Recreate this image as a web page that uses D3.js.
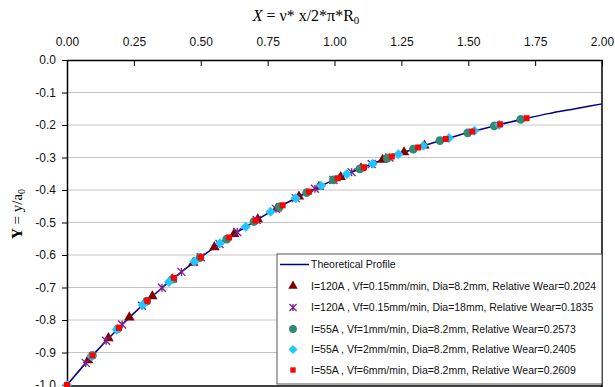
<!DOCTYPE html>
<html>
<head>
<meta charset="utf-8">
<script src="https://cdn.jsdelivr.net/npm/d3@7"></script>
<style>
  html, body { margin: 0; padding: 0; background: #fff; }
  svg { display: block; }
</style>
</head>
<body>
<div id="chart"></div>
<script>
// theoretical profile
const profileX = [0, 0.1, 0.2, 0.3, 0.4, 0.5, 0.6, 0.7, 0.8, 0.9, 1.0, 1.1, 1.2, 1.3, 1.4, 1.5, 1.6, 1.7, 1.8, 1.9, 2.0];
const profileY = [-1, -0.905, -0.819, -0.741, -0.670, -0.607, -0.549, -0.497, -0.449, -0.407, -0.368, -0.333, -0.301, -0.273, -0.247, -0.223, -0.202, -0.183, -0.165, -0.150, -0.135];

// measured points
const triX = [0.079, 0.155, 0.233, 0.319, 0.393, 0.472, 0.551, 0.625, 0.713, 0.784, 0.867, 0.942, 1.023, 1.099, 1.18, 1.26, 1.336];
const triY = [-0.924, -0.856, -0.792, -0.727, -0.675, -0.624, -0.576, -0.535, -0.490, -0.457, -0.420, -0.390, -0.360, -0.333, -0.307, -0.284, -0.263];

const starX = [0.07, 0.146, 0.206, 0.28, 0.355, 0.428, 0.5, 0.57, 0.636, 0.709, 0.781, 0.855, 0.927, 0.996, 1.064, 1.139, 1.205];
const starY = [-0.932, -0.864, -0.814, -0.756, -0.701, -0.652, -0.607, -0.566, -0.529, -0.492, -0.458, -0.425, -0.396, -0.369, -0.345, -0.320, -0.300];

const circX = [0.095, 0.19, 0.298, 0.395, 0.497, 0.597, 0.699, 0.794, 0.896, 0.996, 1.095, 1.197, 1.295, 1.394, 1.498, 1.597, 1.696];
const circY = [-0.909, -0.827, -0.742, -0.674, -0.608, -0.551, -0.497, -0.452, -0.408, -0.369, -0.335, -0.302, -0.274, -0.248, -0.224, -0.203, -0.183];

const diaX = [0, 0.092, 0.186, 0.283, 0.381, 0.476, 0.572, 0.668, 0.761, 0.855, 0.95, 1.046, 1.143, 1.239, 1.332, 1.428, 1.523, 1.616];
const diaY = [-1, -0.912, -0.830, -0.754, -0.683, -0.621, -0.564, -0.513, -0.467, -0.425, -0.387, -0.351, -0.319, -0.290, -0.264, -0.240, -0.218, -0.199];

const sqX = [0, 0.095, 0.194, 0.30, 0.40, 0.50, 0.606, 0.705, 0.806, 0.905, 1.012, 1.11, 1.214, 1.313, 1.416, 1.515, 1.619, 1.718];
const sqY = [-1, -0.909, -0.824, -0.741, -0.670, -0.607, -0.546, -0.494, -0.447, -0.405, -0.364, -0.330, -0.297, -0.269, -0.243, -0.220, -0.198, -0.179];

const xTicks = [0, 0.25, 0.5, 0.75, 1.0, 1.25, 1.5, 1.75, 2.0];
const yTicks = [0, -0.1, -0.2, -0.3, -0.4, -0.5, -0.6, -0.7, -0.8, -0.9, -1.0];

const seriesNames = [
  'I=120A , Vf=0.15mm/min, Dia=8.2mm, Relative Wear=0.2024',
  'I=120A , Vf=0.15mm/min, Dia=18mm, Relative Wear=0.1835',
  'I=55A , Vf=1mm/min, Dia=8.2mm, Relative Wear=0.2573',
  'I=55A , Vf=2mm/min, Dia=8.2mm, Relative Wear=0.2405',
  'I=55A , Vf=6mm/min, Dia=8.2mm, Relative Wear=0.2609'
];

const width = 615, height = 387;
const plotLeft = 67, plotRight = 602, plotTop = 60, plotBottom = 385;

const x = d3.scaleLinear().domain([0, 2]).range([plotLeft, plotRight]);
const y = d3.scaleLinear().domain([-1, 0]).range([plotBottom, plotTop]);

const svg = d3.select('#chart').append('svg')
  .attr('width', width)
  .attr('height', height);

// asterisk marker like excel's star
const asterisk = {
  draw(ctx, size) {
    const r = Math.sqrt(size) / 2;
    ctx.moveTo(-r, -r); ctx.lineTo(r, r);
    ctx.moveTo(-r, r); ctx.lineTo(r, -r);
    ctx.moveTo(0, -r); ctx.lineTo(0, r);
  }
};

// square diamond (d3's one is too tall)
const diamond = {
  draw(ctx, size) {
    const r = Math.sqrt(size) / 2;
    ctx.moveTo(0, -r); ctx.lineTo(r, 0); ctx.lineTo(0, r); ctx.lineTo(-r, 0);
    ctx.closePath();
  }
};

const series = [
  { xs: triX, ys: triY, type: d3.symbolTriangle, size: 48, fill: '#800000', stroke: 'none' },
  { xs: starX, ys: starY, type: asterisk, size: 64, fill: 'none', stroke: '#7a1f8a' },
  { xs: circX, ys: circY, type: d3.symbolCircle, size: 60, fill: '#2e8b74', stroke: 'none' },
  { xs: diaX, ys: diaY, type: diamond, size: 100, fill: '#1ec8ff', stroke: 'none' },
  { xs: sqX, ys: sqY, type: d3.symbolSquare, size: 36, fill: '#ff0000', stroke: 'none' }
];

// gridlines
svg.append('g')
  .selectAll('line')
  .data(yTicks.filter(d => d !== 0 && d !== -1))
  .join('line')
  .attr('x1', plotLeft).attr('x2', plotRight)
  .attr('y1', d => y(d)).attr('y2', d => y(d))
  .attr('stroke', '#c4c4c4')
  .attr('stroke-width', 1);

// top axis
const xAxis = svg.append('g')
  .attr('transform', `translate(0,${plotTop})`)
  .call(d3.axisTop(x).tickValues(xTicks).tickFormat(d => d.toFixed(2))
    .tickSizeInner(-6).tickSizeOuter(0).tickPadding(14));
xAxis.select('.domain').attr('stroke', '#000').attr('stroke-width', 1.5);
xAxis.selectAll('.tick line').attr('stroke', '#000');
xAxis.selectAll('text').attr('font-family', 'Arial, Liberation Sans, sans-serif')
  .attr('font-size', 12).attr('fill', '#111');

// left axis
const yAxis = svg.append('g')
  .attr('transform', `translate(${plotLeft},0)`)
  .call(d3.axisLeft(y).tickValues(yTicks).tickFormat(d => d.toFixed(1))
    .tickSizeInner(5).tickSizeOuter(0).tickPadding(6));
yAxis.select('.domain').attr('stroke', '#000').attr('stroke-width', 1.5);
yAxis.selectAll('.tick line').attr('stroke', '#000');
yAxis.selectAll('text').attr('font-family', 'Arial, Liberation Sans, sans-serif')
  .attr('font-size', 12).attr('fill', '#111');

// right and bottom frame
svg.append('line').attr('x1', plotRight).attr('x2', plotRight).attr('y1', plotTop).attr('y2', height)
  .attr('stroke', '#000').attr('stroke-width', 1.5);
svg.append('line').attr('x1', plotLeft).attr('x2', plotRight).attr('y1', plotBottom + 1).attr('y2', plotBottom + 1)
  .attr('stroke', '#000').attr('stroke-width', 1.5);

// theoretical profile
const line = d3.line().x(d => x(d[0])).y(d => y(d[1])).curve(d3.curveMonotoneX);
svg.append('path')
  .datum(profileX.map((v, i) => [v, profileY[i]]))
  .attr('d', line)
  .attr('fill', 'none')
  .attr('stroke', '#000080')
  .attr('stroke-width', 1.5);

// markers
series.forEach(s => {
  svg.append('g')
    .selectAll('path')
    .data(s.xs.map((v, i) => [v, s.ys[i]]))
    .join('path')
    .attr('transform', d => `translate(${x(d[0])},${y(d[1])})`)
    .attr('d', d3.symbol().type(s.type).size(s.size))
    .attr('fill', s.fill)
    .attr('stroke', s.stroke)
    .attr('stroke-width', 1.3);
});

// titles
svg.append('text')
  .attr('x', 306).attr('y', 21)
  .attr('text-anchor', 'middle')
  .attr('font-family', 'Times New Roman, Liberation Serif, serif')
  .attr('font-size', 16)
  .html('<tspan font-style="italic">X</tspan> = ν* x/2*π*R<tspan font-size="11" dy="3">0</tspan>');

svg.append('text')
  .attr('transform', 'translate(22,214) rotate(-90)')
  .attr('text-anchor', 'middle')
  .attr('font-family', 'Times New Roman, Liberation Serif, serif')
  .attr('font-size', 15)
  .html('<tspan font-weight="bold">Y</tspan> = y/a<tspan font-size="10" dy="3">0</tspan>');

// legend
const lg = svg.append('g');
lg.append('rect')
  .attr('x', 277).attr('y', 254).attr('width', 325).attr('height', 130)
  .attr('fill', '#fff').attr('stroke', '#555').attr('stroke-width', 1);

const rowY = [264.5, 286, 307.5, 329, 349.5, 370];
lg.append('line').attr('x1', 280).attr('x2', 309).attr('y1', rowY[0]).attr('y2', rowY[0])
  .attr('stroke', '#000080').attr('stroke-width', 1.5);
lg.append('text').attr('x', 311).attr('y', rowY[0]).attr('dy', '0.35em')
  .attr('font-family', 'Arial, Liberation Sans, sans-serif').attr('font-size', 10.5)
  .attr('fill', '#111').text('Theoretical Profile');

series.forEach((s, i) => {
  const yy = rowY[i + 1];
  lg.append('path')
    .attr('transform', `translate(293,${yy})`)
    .attr('d', d3.symbol().type(s.type).size(s.size * 0.8))
    .attr('fill', s.fill).attr('stroke', s.stroke).attr('stroke-width', 1.3);
  lg.append('text').attr('x', 311).attr('y', yy).attr('dy', '0.35em')
    .attr('font-family', 'Arial, Liberation Sans, sans-serif').attr('font-size', 10.5)
    .attr('fill', '#111').text(seriesNames[i]);
});
</script>
</body>
</html>
